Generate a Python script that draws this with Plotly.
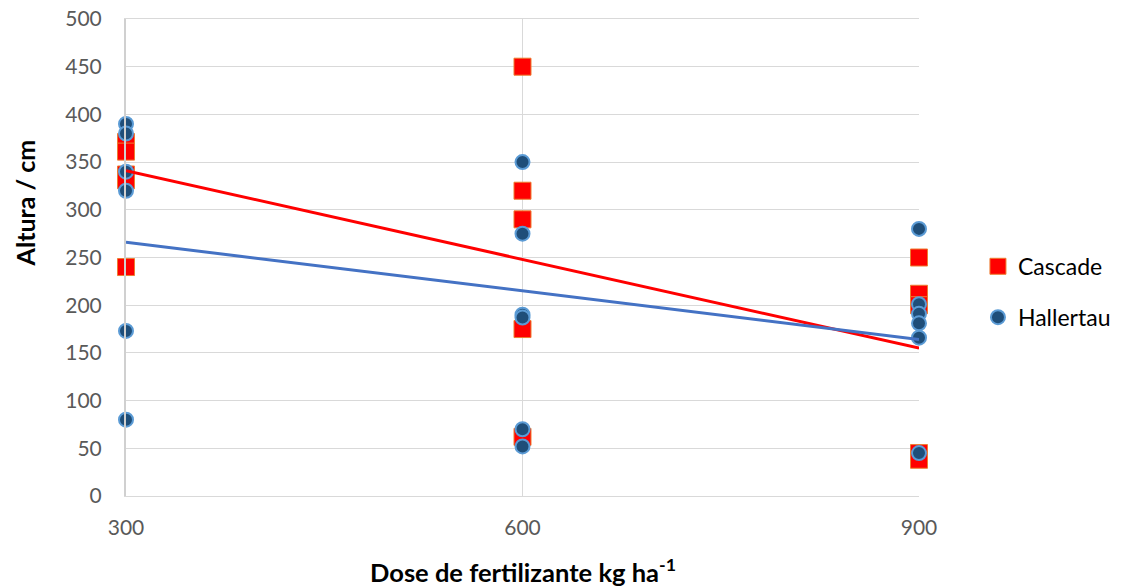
import plotly.graph_objects as go

# Data
cascade_x = [300, 300, 300, 300, 300, 600, 600, 600, 600, 600, 900, 900, 900, 900, 900]
cascade_y = [371, 361, 337, 331, 240, 450, 320, 290, 175, 62, 250, 212, 200, 45, 38]
hallertau_x = [300, 300, 300, 300, 300, 300, 600, 600, 600, 600, 600, 600, 900, 900, 900, 900, 900, 900]
hallertau_y = [390, 380, 340, 320, 173, 80, 350, 275, 190, 187, 70, 52, 280, 201, 191, 181, 166, 45]
# Linear trendlines (endpoints)
trend_x = [300, 900]
cascade_trend_y = [341, 155]
hallertau_trend_y = [266, 164]
x_ticks = [300, 600, 900]
y_ticks = [0, 50, 100, 150, 200, 250, 300, 350, 400, 450, 500]

FONT = "Lato"

fig = go.Figure()

fig.add_trace(go.Scatter(x=cascade_x, y=cascade_y, mode="markers", name="Cascade",
                         legendgroup="c",
                         marker=dict(symbol="square", size=17, color="#FF0000",
                                     line=dict(color="#ED7D31", width=1)),
                         cliponaxis=False))
fig.add_trace(go.Scatter(x=hallertau_x, y=hallertau_y, mode="markers", name="Hallertau",
                         legendgroup="h",
                         marker=dict(symbol="circle", size=14, color="#1F4E79",
                                     line=dict(color="#5B9BD5", width=2)),
                         cliponaxis=False))
fig.add_trace(go.Scatter(x=trend_x, y=cascade_trend_y, mode="lines",
                         line=dict(color="#FF0000", width=3),
                         showlegend=False, cliponaxis=False, hoverinfo="skip"))
fig.add_trace(go.Scatter(x=trend_x, y=hallertau_trend_y, mode="lines",
                         line=dict(color="#4472C4", width=3),
                         showlegend=False, cliponaxis=False, hoverinfo="skip"))

fig.update_layout(
    width=1118, height=578,
    margin=dict(l=118, r=206, t=11, b=90),
    paper_bgcolor="white", plot_bgcolor="white",
    font=dict(family=FONT, size=21, color="#595959"),
    showlegend=True,
    legend=dict(x=1.073, xanchor="left", y=0.428, yanchor="middle",
                font=dict(family=FONT, size=23, color="#000000"),
                tracegroupgap=18, bgcolor="rgba(0,0,0,0)", borderwidth=0),
    xaxis=dict(range=[300, 900], tickvals=x_ticks, ticktext=[str(v) for v in x_ticks],
               showgrid=True, gridcolor="#D9D9D9", gridwidth=1,
               showline=True, linecolor="#D9D9D9", linewidth=1, mirror=True,
               zeroline=False, ticks="", ticklabelstandoff=13, automargin=False,
               ticklabeloverflow="allow",
               tickfont=dict(family=FONT, size=21, color="#595959")),
    yaxis=dict(range=[0, 500], tickvals=y_ticks,
               showgrid=True, gridcolor="#D9D9D9", gridwidth=1,
               showline=True, linecolor="#D0D0D0", linewidth=2, mirror=False,
               zeroline=False, ticks="", ticklabelstandoff=18, automargin=False,
               ticklabeloverflow="allow",
               tickfont=dict(family=FONT, size=21, color="#595959")),
    annotations=[
        dict(text="<b>Dose de fertilizante kg ha<sup>-1</sup></b>", xref="paper", yref="paper",
             x=0.5, y=-0.155, xanchor="center", yanchor="middle", showarrow=False,
             font=dict(family=FONT, size=25.5, color="#000000")),
        dict(text="<b>Altura / cm</b>", xref="paper", yref="paper",
             x=-0.127, y=0.614, xanchor="center", yanchor="middle", textangle=-90, showarrow=False,
             font=dict(family=FONT, size=25, color="#000000")),
    ],
)

fig.write_html("out.html")
